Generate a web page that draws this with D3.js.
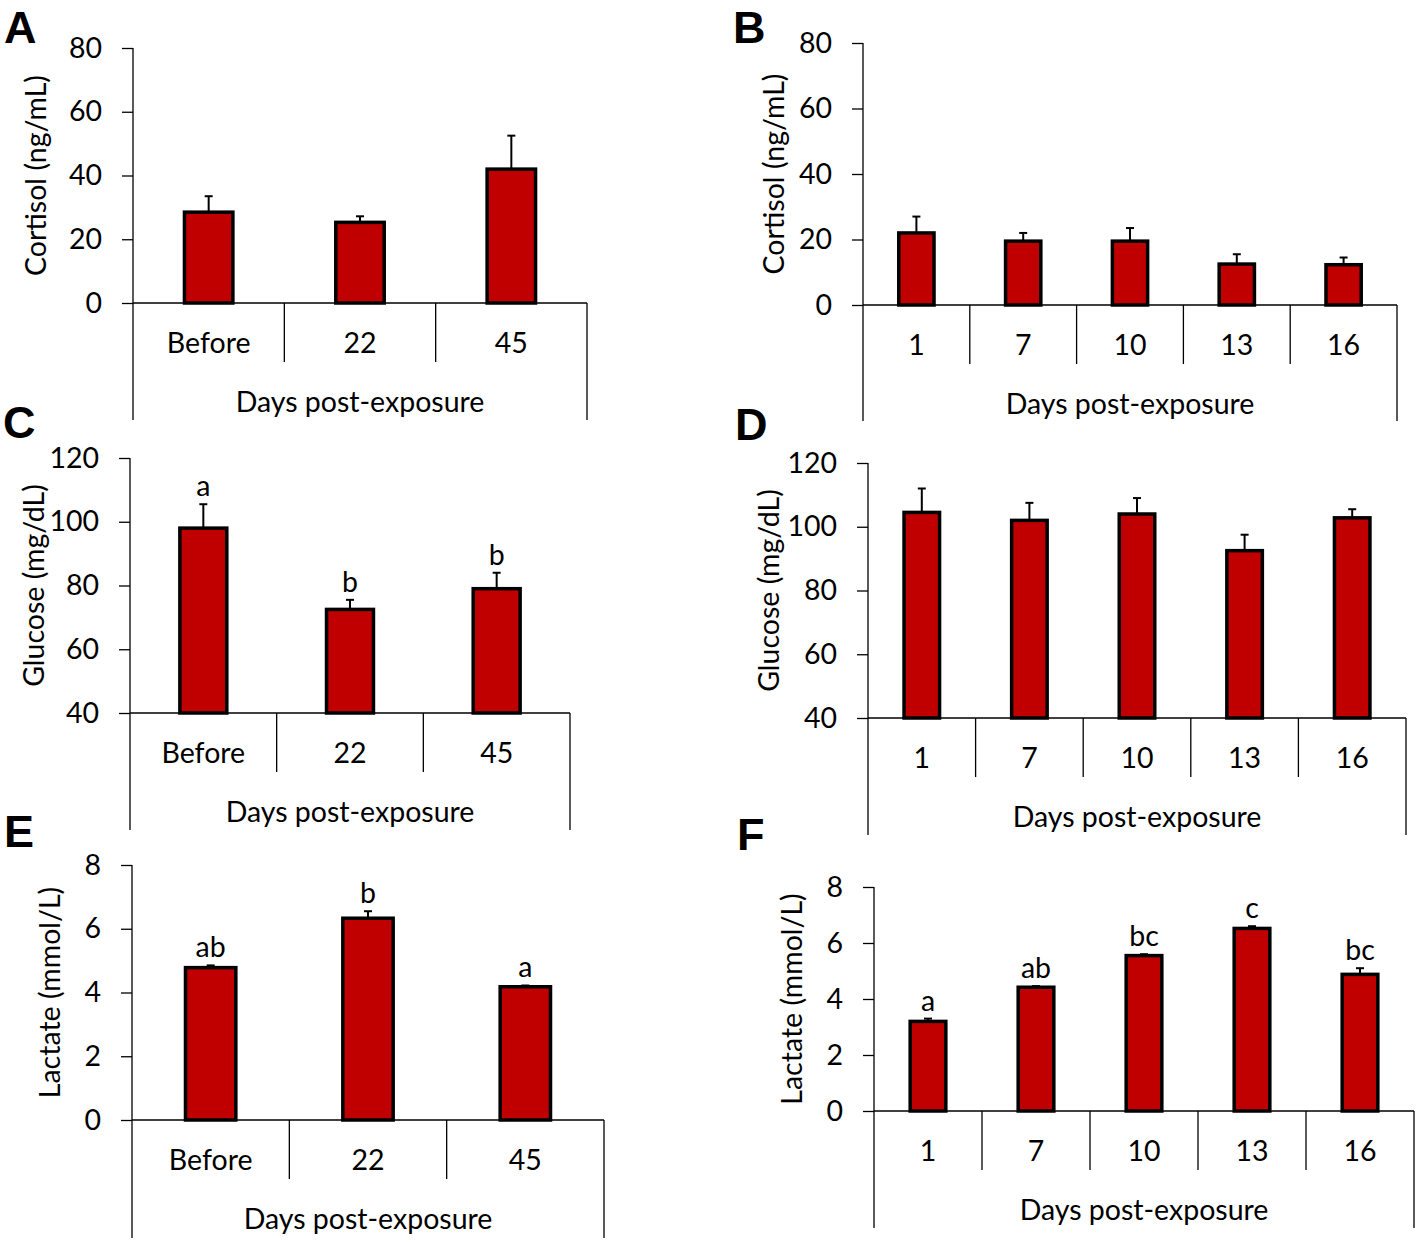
<!DOCTYPE html>
<html>
<head>
<meta charset="utf-8">
<script src="https://cdn.jsdelivr.net/npm/d3@7"></script>
<style>
  body { margin: 0; background: #fff; }
  text { font-family: Lato, "Open Sans", sans-serif; fill: #000; }
</style>
</head>
<body>
<div id="fig"></div>
<script>
// categories
var catsEarly = ["Before", "22", "45"];
var catsLate = ["1", "7", "10", "13", "16"];

// panel A/B cortisol (ng/mL)
var cortEarly = [28.5, 25.3, 42.0];
var cortEarlyErr = [5.0, 1.9, 10.5];
var cortLate = [22.0, 19.5, 19.5, 12.5, 12.3];
var cortLateErr = [5.0, 2.5, 4.0, 3.0, 2.2];

// panel C/D glucose (mg/dL)
var gluEarly = [98.0, 72.5, 79.0];
var gluEarlyErr = [7.5, 3.0, 5.0];
var gluEarlyLetters = ["a", "b", "b"];
var gluLate = [104.5, 102.0, 104.0, 92.5, 102.8];
var gluLateErr = [7.5, 5.5, 5.0, 5.0, 2.7];

// panel E/F lactate (mmol/L)
var lacEarly = [4.78, 6.33, 4.18];
var lacEarlyErr = [0.07, 0.22, 0.04];
var lacEarlyLetters = ["ab", "b", "a"];
var lacLate = [3.2, 4.42, 5.55, 6.52, 4.88];
var lacLateErr = [0.1, 0.04, 0.05, 0.08, 0.22];
var lacLateLetters = ["a", "ab", "bc", "c", "bc"];

var cortTicks = [0, 20, 40, 60, 80];
var gluTicks = [40, 60, 80, 100, 120];
var lacTicks = [0, 2, 4, 6, 8];

var fs = "28.5px";

var svg = d3.select("#fig").append("svg")
  .attr("width", 1416).attr("height", 1242);

function panel(p) {
  var g = svg.append("g");
  var x = d3.scaleBand().domain(p.cats).range([p.x0, p.x1]).paddingInner(0).paddingOuter(0);
  var y = d3.scaleLinear().domain(p.domain).range([p.yb, p.yt]);
  var bw = x.bandwidth() * p.barFrac;

  // y axis
  var yAxis = d3.axisLeft(y).tickValues(p.ticks).tickSize(11).tickPadding(20);
  var ya = g.append("g").attr("transform", "translate(" + p.x0 + ",0)").call(yAxis);
  ya.select(".domain").attr("stroke-width", 1.3).attr("d", "M0," + p.yt + "V" + p.yb);
  ya.selectAll(".tick line").attr("stroke-width", 1.3);
  ya.selectAll(".tick text").style("font-size", fs).style("font-family", "Lato, sans-serif");

  // baseline + category dividers
  g.append("line").attr("x1", p.x0).attr("x2", p.x1).attr("y1", p.yb).attr("y2", p.yb)
    .attr("stroke", "#000").attr("stroke-width", 1.3);
  p.cats.forEach(function(c, i) {
    var xx = x(c);
    g.append("line").attr("x1", xx).attr("x2", xx).attr("y1", p.yb)
      .attr("y2", i === 0 ? p.yb + p.outer : p.yb + p.inner)
      .attr("stroke", "#000").attr("stroke-width", 1.3);
  });
  g.append("line").attr("x1", p.x1).attr("x2", p.x1).attr("y1", p.yb).attr("y2", p.yb + p.outer)
    .attr("stroke", "#000").attr("stroke-width", 1.3);

  // category labels
  g.selectAll(".cat").data(p.cats).enter().append("text")
    .attr("x", function(d) { return x(d) + x.bandwidth() / 2; })
    .attr("y", p.yb + 50)
    .attr("text-anchor", "middle").style("font-size", fs)
    .text(function(d) { return d; });

  g.append("text").attr("x", (p.x0 + p.x1) / 2).attr("y", p.yb + 109)
    .attr("text-anchor", "middle").style("font-size", fs).text("Days post-exposure");

  // y label
  g.append("text")
    .attr("transform", "translate(" + p.labX + "," + (p.yt + p.yb) / 2 + ") rotate(-90)")
    .attr("text-anchor", "middle").style("font-size", fs).text(p.ylab);

  // error bars (drawn behind bars)
  var rows = p.cats.map(function(c, i) {
    return { c: c, v: p.vals[i], e: p.errs[i], l: p.letters ? p.letters[i] : null };
  });
  rows.forEach(function(d) {
    var cx = x(d.c) + x.bandwidth() / 2;
    g.append("line").attr("x1", cx).attr("x2", cx).attr("y1", y(d.v)).attr("y2", y(d.v + d.e))
      .attr("stroke", "#000").attr("stroke-width", 2);
    g.append("line").attr("x1", cx - 4).attr("x2", cx + 4).attr("y1", y(d.v + d.e)).attr("y2", y(d.v + d.e))
      .attr("stroke", "#000").attr("stroke-width", 2);
  });

  g.selectAll(".bar").data(rows).enter().append("rect")
    .attr("x", function(d) { return x(d.c) + (x.bandwidth() - bw) / 2; })
    .attr("y", function(d) { return y(d.v); })
    .attr("width", bw)
    .attr("height", function(d) { return p.yb - y(d.v); })
    .attr("fill", "#c00000").attr("stroke", "#000").attr("stroke-width", 3.5);

  if (p.letters) {
    g.selectAll(".sig").data(rows).enter().append("text")
      .attr("x", function(d) { return x(d.c) + x.bandwidth() / 2; })
      .attr("y", function(d) { return y(d.v + d.e) - 8; })
      .attr("text-anchor", "middle").style("font-size", fs)
      .text(function(d) { return d.l; });
  }

  svg.append("text").attr("x", p.tagX).attr("y", p.tagY)
    .style("font-family", "'Liberation Sans', Arial, sans-serif").style("font-weight", "bold")
    .style("font-size", "45px").text(p.tag);
}

panel({ tag: "A", tagX: 4, tagY: 43, cats: catsEarly, vals: cortEarly, errs: cortEarlyErr,
  domain: [0, 80], ticks: cortTicks, x0: 133, x1: 587, yt: 48, yb: 303, inner: 59, outer: 117,
  barFrac: 0.32, labX: 46, ylab: "Cortisol (ng/mL)" });
panel({ tag: "B", tagX: 733, tagY: 43, cats: catsLate, vals: cortLate, errs: cortLateErr,
  domain: [0, 80], ticks: cortTicks, x0: 863, x1: 1397, yt: 43, yb: 305, inner: 59, outer: 116,
  barFrac: 0.33, labX: 784, ylab: "Cortisol (ng/mL)" });
panel({ tag: "C", tagX: 3, tagY: 438, cats: catsEarly, vals: gluEarly, errs: gluEarlyErr, letters: gluEarlyLetters,
  domain: [40, 120], ticks: gluTicks, x0: 130, x1: 570, yt: 458, yb: 713, inner: 59, outer: 117,
  barFrac: 0.32, labX: 44, ylab: "Glucose (mg/dL)" });
panel({ tag: "D", tagX: 735, tagY: 440, cats: catsLate, vals: gluLate, errs: gluLateErr,
  domain: [40, 120], ticks: gluTicks, x0: 868, x1: 1406, yt: 463, yb: 718, inner: 59, outer: 117,
  barFrac: 0.33, labX: 779, ylab: "Glucose (mg/dL)" });
panel({ tag: "E", tagX: 4, tagY: 847, cats: catsEarly, vals: lacEarly, errs: lacEarlyErr, letters: lacEarlyLetters,
  domain: [0, 8], ticks: lacTicks, x0: 132, x1: 604, yt: 865, yb: 1120, inner: 59, outer: 118,
  barFrac: 0.32, labX: 60, ylab: "Lactate (mmol/L)" });
panel({ tag: "F", tagX: 737, tagY: 850, cats: catsLate, vals: lacLate, errs: lacLateErr, letters: lacLateLetters,
  domain: [0, 8], ticks: lacTicks, x0: 874, x1: 1414, yt: 887, yb: 1111, inner: 59, outer: 117,
  barFrac: 0.33, labX: 802, ylab: "Lactate (mmol/L)" });
</script>
</body>
</html>
